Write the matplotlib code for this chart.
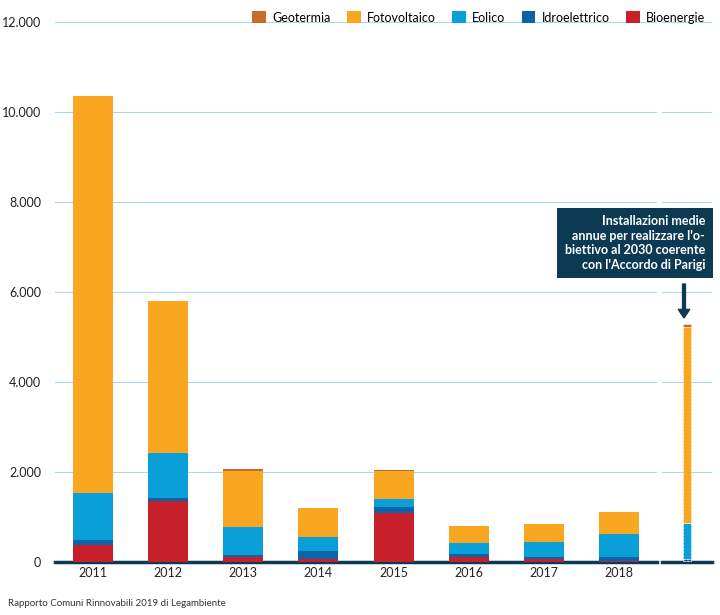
import matplotlib
matplotlib.use("Agg")
import matplotlib.pyplot as plt
import numpy as np

plt.rcParams['font.family'] = ['Lato', 'DejaVu Sans']

years = ['2011', '2012', '2013', '2014', '2015', '2016', '2017', '2018']
bioenergie = [378, 1356, 111, 60, 1089, 111, 74, 15]
idroelettrico = [104, 59, 45, 178, 126, 60, 46, 89]
eolico = [1060, 1000, 615, 326, 178, 244, 324, 511]
fotovoltaico = [8808, 3375, 1251, 629, 629, 378, 393, 489]
geotermia = [0, 0, 38, 0, 22, 0, 0, 0]

target = {'Bioenergie': 30, 'Idroelettrico': 40, 'Eolico': 790, 'Fotovoltaico': 4370, 'Geotermia': 50}

names = ['Bioenergie', 'Idroelettrico', 'Eolico', 'Fotovoltaico', 'Geotermia']
series = [bioenergie, idroelettrico, eolico, fotovoltaico, geotermia]
colors = {'Bioenergie': '#c8202a', 'Idroelettrico': '#0b63a8', 'Eolico': '#0a9fd8',
          'Fotovoltaico': '#f9a620', 'Geotermia': '#cc6a2c'}
navy = '#0b3a52'
grid = '#a9d8ea'

fig = plt.figure(figsize=(7.2, 6.15), dpi=100)
ax = fig.add_axes([55/720, 1-562/615, 602/720, 540/615])
ax2 = fig.add_axes([662/720, 1-562/615, 50/720, 540/615], sharey=ax)

x = np.arange(len(years))
bottom = np.zeros(len(years))
handles = {}
for n, s in zip(names, series):
    handles[n] = ax.bar(x, s, 0.53, bottom=bottom, color=colors[n], label=n, zorder=3)
    bottom += np.array(s)

b = 0
for n in names:
    ax2.bar(0, target[n], 0.34, bottom=b, color=colors[n], edgecolor='white',
            linestyle=(0, (3, 2)), linewidth=0.5, zorder=3)
    b += target[n]

for a in (ax, ax2):
    a.set_ylim(0, 12000)
    a.set_yticks(range(0, 12001, 2000))
    a.yaxis.grid(True, color=grid, linewidth=0.8, zorder=0)
    for sp in ('top', 'right', 'left'):
        a.spines[sp].set_visible(False)
    a.spines['bottom'].set_color(navy)
    a.spines['bottom'].set_linewidth(2.5)
    a.tick_params(length=0, labelsize=9, colors='#222222')

ax.set_xlim(-0.5, 7.5)
ax.set_xticks(x)
ax.set_xticklabels(years)
ax.set_yticklabels(['0', '2.000', '4.000', '6.000', '8.000', '10.000', '12.000'])
ax.tick_params(axis='y', pad=10)
ax2.set_xlim(-1, 1)
ax2.set_xticks([])
ax2.tick_params(axis='y', labelleft=False)

order = ['Geotermia', 'Fotovoltaico', 'Eolico', 'Idroelettrico', 'Bioenergie']
fig.legend([handles[n] for n in order], order, loc='upper right', bbox_to_anchor=(0.995, 1.0),
           ncol=5, frameon=False, fontsize=9, handlelength=1.1, handleheight=1.1,
           handletextpad=0.5, columnspacing=1.3)

fig.text(705/720, 1-243/615,
         "Installazioni medie\nannue per realizzare l'o-\nbiettivo al 2030 coerente\ncon l'Accordo di Parigi",
         fontsize=9, color='white', ha='right', va='center', fontweight='bold', multialignment='right',
         linespacing=1.25, bbox=dict(boxstyle='square,pad=0.6', fc=navy, ec='none'))
fig.patches.append(matplotlib.patches.FancyArrow(684/720, 1-284/615, 0, -34/615, width=0.004,
                   head_width=0.016, head_length=0.014, length_includes_head=True,
                   color=navy, transform=fig.transFigure))

fig.text(8/720, 1-606/615, 'Rapporto Comuni Rinnovabili 2019 di Legambiente', fontsize=7, color='#333333')

fig.savefig('out.png', dpi=100)
